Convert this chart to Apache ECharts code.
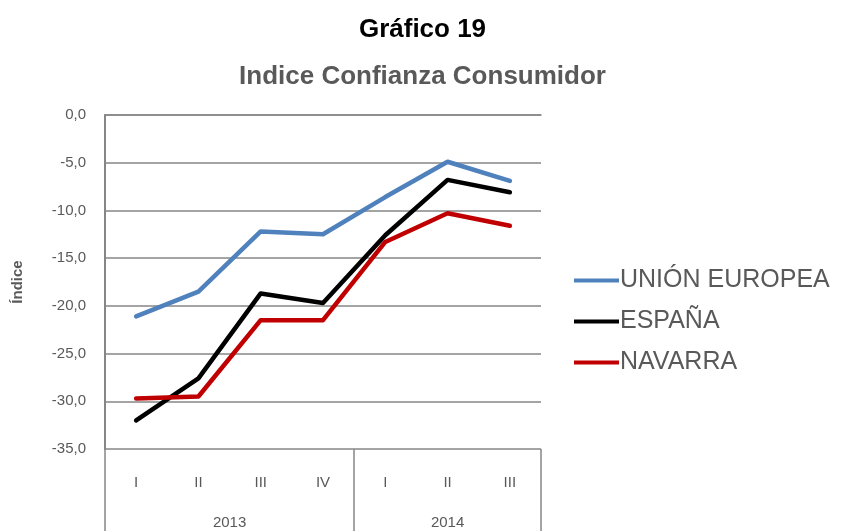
<!DOCTYPE html>
<html><head><meta charset="utf-8">
<script src="https://cdn.jsdelivr.net/npm/echarts@6/dist/echarts.min.js"></script>
<style>html,body{margin:0;padding:0;background:#fff}#c{width:845px;height:531px}</style>
</head><body><div id="c"></div>
<script>
const categories = ['I','II','III','IV','I','II','III'];
const years = ['2013','2014'];
const yearStart = [0,4];
const yearEnd = [4,7];
const ue = [-21.1,-18.5,-12.2,-12.5,-8.6,-4.9,-6.9];
const espana = [-32.0,-27.6,-18.7,-19.7,-12.6,-6.8,-8.1];
const navarra = [-29.7,-29.5,-21.5,-21.5,-13.3,-10.3,-11.6];

const grey = '#595959';
const lineGrey = '#868686';
const chart = echarts.init(document.getElementById('c'));
const yearCenters = years.map((y,i)=>(yearStart[i]+yearEnd[i])/2);
const bounds = [0].concat(yearEnd);
chart.setOption({
  animation:false,
  title:[
    {text:'Gráfico 19',left:'center',top:12,textStyle:{fontFamily:'Liberation Sans',fontWeight:'bold',fontSize:26,color:'#000'}},
    {text:'Indice Confianza Consumidor',left:'center',top:59,textStyle:{fontFamily:'Liberation Sans',fontWeight:'bold',fontSize:26,color:grey}}
  ],
  grid:{left:105,right:304,top:115,bottom:82,containLabel:false},
  legend:{
    orient:'vertical',left:569,top:263,itemWidth:45,itemHeight:14,itemGap:16,
    icon:'path://M0,5 L45,5 L45,9 L0,9 Z',
    textStyle:{fontFamily:'Liberation Sans',fontSize:25,color:grey,padding:[0,0,0,-4]},
    data:['UNIÓN EUROPEA','ESPAÑA','NAVARRA']
  },
  xAxis:[
    {type:'category',data:categories,boundaryGap:true,position:'bottom',
     axisLine:{show:true,lineStyle:{color:lineGrey,width:1.5}},axisTick:{show:false},
     axisLabel:{margin:26,fontFamily:'Liberation Sans',fontSize:15,color:grey},splitLine:{show:false}},
    {type:'value',min:0,max:7,position:'bottom',
     axisLine:{show:false},
     axisTick:{show:true,inside:false,length:82,customValues:bounds,lineStyle:{color:lineGrey,width:1.5}},
     axisLabel:{show:true,margin:66,customValues:yearCenters,fontFamily:'Liberation Sans',fontSize:15,color:grey,
       formatter:function(v){const i=yearCenters.indexOf(v);return i>=0?years[i]:'';}},
     splitLine:{show:false}}
  ],
  yAxis:{type:'value',min:-35,max:0,interval:5,name:'Índice',nameLocation:'middle',nameGap:80,
    nameTextStyle:{fontFamily:'Liberation Sans',fontWeight:'bold',fontSize:15,color:grey},
    axisLine:{show:true,lineStyle:{color:lineGrey,width:2}},axisTick:{show:false},
    axisLabel:{margin:19,fontFamily:'Liberation Sans',fontSize:15,color:grey,formatter:v=>v.toFixed(1).replace('.',',')},
    splitLine:{show:true,lineStyle:{color:lineGrey,width:1.5}}},
  series:[
    {name:'UNIÓN EUROPEA',type:'line',xAxisIndex:0,data:ue,symbol:'none',lineStyle:{color:'#4F81BD',width:4.5,cap:'round',join:'round'},itemStyle:{color:'#4F81BD'}},
    {name:'ESPAÑA',type:'line',xAxisIndex:0,data:espana,symbol:'none',lineStyle:{color:'#000000',width:4.5,cap:'round',join:'round'},itemStyle:{color:'#000000'}},
    {name:'NAVARRA',type:'line',xAxisIndex:0,data:navarra,symbol:'none',lineStyle:{color:'#C00000',width:4.5,cap:'round',join:'round'},itemStyle:{color:'#C00000'}}
  ]
});
</script></body></html>
